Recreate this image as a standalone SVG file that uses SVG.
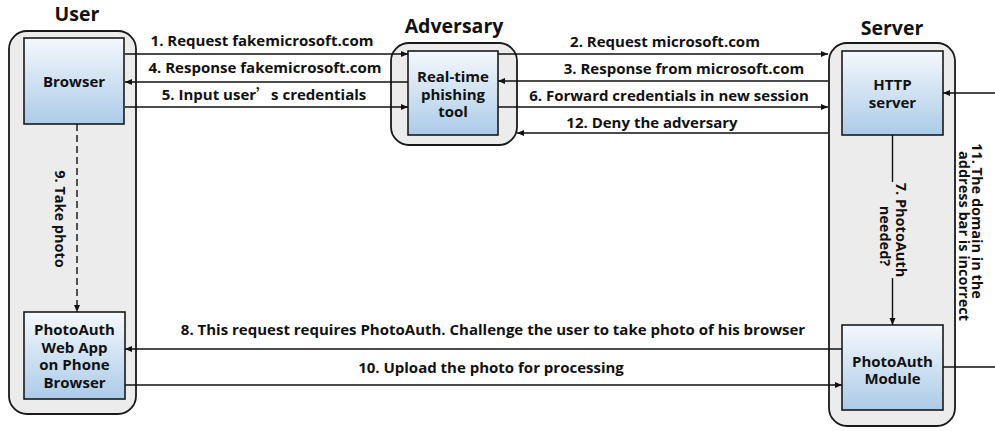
<svg xmlns="http://www.w3.org/2000/svg" width="995" height="431" viewBox="0 0 995 431">
<defs>
<linearGradient id="blue" x1="0" y1="0" x2="0" y2="1">
<stop offset="0" stop-color="#f4f8fc"/>
<stop offset="1" stop-color="#accbe8"/>
</linearGradient>
<marker id="arr" markerUnits="userSpaceOnUse" markerWidth="8" markerHeight="8" refX="7" refY="4" orient="auto">
<path d="M0,1 L7,4 L0,7 Z" fill="#111"/>
</marker>
</defs>
<style>
.cont{fill:#ececec;stroke:#1a1a1a;stroke-width:1.8}
.box{fill:url(#blue);stroke:#1a1a1a;stroke-width:1.6}
.t{font-family:"Open Sans","Noto Sans","DejaVu Sans",sans-serif;font-weight:bold;font-size:15px;fill:#111;text-anchor:middle}
.r{font-size:14.5px}
.title{font-size:19.5px}
.cjk{font-family:"Noto Sans CJK SC",sans-serif}
.c{stroke:#111;stroke-width:1.4;fill:none;marker-end:url(#arr)}
.dash{stroke-dasharray:7,4}
.bg{fill:#ececec}
</style>

<g id="user">
<rect class="cont" x="9" y="31" width="127" height="383" rx="18"/>
<text class="t title" x="77" y="21">User</text>
</g>
<g id="browser">
<rect class="box" x="24" y="38" width="100" height="86"/>
<text class="t" x="74" y="87">Browser</text>
</g>
<g id="photoauth-webapp">
<rect class="box" x="24" y="312" width="101" height="87"/>
<text class="t" x="74.5" y="335">PhotoAuth<tspan x="74.5" dy="17.5">Web App</tspan><tspan x="74.5" dy="17.5">on Phone</tspan><tspan x="74.5" dy="17.5">Browser</tspan></text>
</g>

<g id="adversary">
<rect class="cont" x="391" y="43" width="126" height="102" rx="18"/>
<text class="t title" x="454" y="33">Adversary</text>
</g>
<g id="phishing-tool">
<rect class="box" x="408" y="51" width="90" height="84"/>
<text class="t" x="453" y="82">Real-time<tspan x="453" dy="17.5">phishing</tspan><tspan x="453" dy="17.5">tool</tspan></text>
</g>

<g id="server">
<rect class="cont" x="829" y="43" width="126" height="383" rx="18"/>
<text class="t title" x="892" y="35">Server</text>
</g>
<g id="http-server">
<rect class="box" x="842" y="51" width="101" height="84"/>
<text class="t" x="892.5" y="90">HTTP<tspan x="892.5" dy="17.5">server</tspan></text>
</g>
<g id="photoauth-module">
<rect class="box" x="842" y="325" width="101" height="85"/>
<text class="t" x="892.5" y="367">PhotoAuth<tspan x="892.5" dy="17">Module</tspan></text>
</g>

<g id="connectors">
<path class="c" d="M125,54 H408"/>
<path class="c" d="M408,82 H125"/>
<path class="c" d="M125,107 H408"/>
<path class="c" d="M498,54 H828"/>
<path class="c" d="M828,81 H498"/>
<path class="c" d="M498,107 H828"/>
<path class="c" d="M828,133 H517"/>
<path class="c" d="M892.5,135 V325"/>
<path class="c dash" d="M77,124 V312"/>
<path class="c" d="M842,349 H125"/>
<path class="c" d="M125,385 H842"/>
<path class="c" d="M943,367 H1005 V93 H943"/>
</g>

<g id="labels">
<text class="t" x="262" y="46">1. Request fakemicrosoft.com</text>
<text class="t" x="265" y="73">4. Response fakemicrosoft.com</text>
<text class="t" x="264" y="100">5. Input user<tspan class="cjk">’</tspan>s credentials</text>
<text class="t" x="665" y="47">2. Request microsoft.com</text>
<text class="t" x="684" y="74">3. Response from microsoft.com</text>
<text class="t" x="669" y="101">6. Forward credentials in new session</text>
<text class="t" x="652" y="128">12. Deny the adversary</text>
<text class="t" x="493" y="335">8. This request requires PhotoAuth. Challenge the user to take photo of his browser</text>
<text class="t" x="491" y="373">10. Upload the photo for processing</text>
<text class="t r" transform="translate(55,219) rotate(90)">9. Take photo</text>
<rect class="bg" x="877" y="182" width="31" height="96"/>
<text class="t r" transform="translate(896,230) rotate(90)">7. PhotoAuth<tspan x="0" y="16" dx="6">needed?</tspan></text>
<text class="t r" transform="translate(972,221) rotate(90)">11. The domain in the<tspan x="15" y="13">address bar is incorrect</tspan></text>
</g>
</svg>
